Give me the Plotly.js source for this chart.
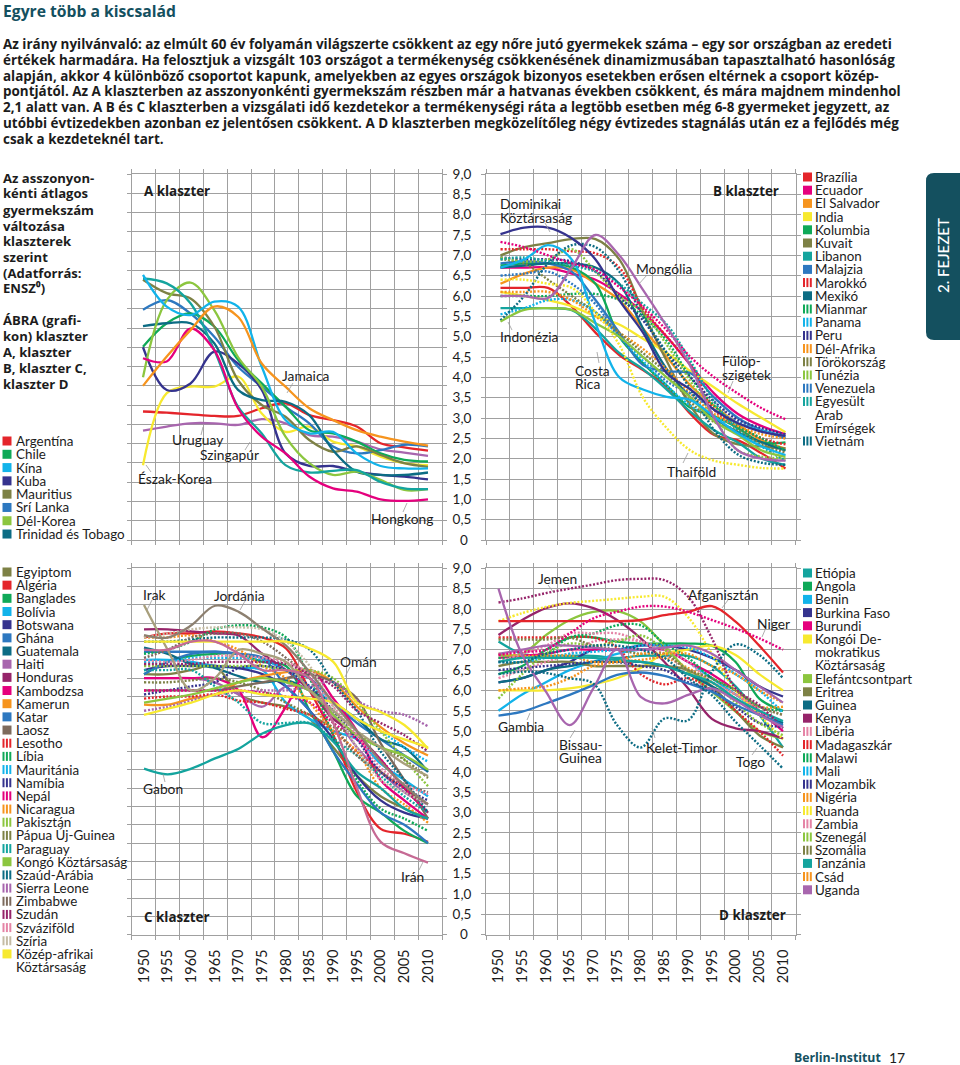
<!DOCTYPE html>
<html lang="hu"><head><meta charset="utf-8">
<script src="https://cdn.plot.ly/plotly-3.0.1.min.js"></script>
<style>html,body{margin:0;padding:0;background:#fff}#chart{width:960px;height:1065px}</style>
</head><body><div id="chart"></div>
<script>
const years=[1950,1955,1960,1965,1970,1975,1980,1985,1990,1995,2000,2005,2010];
const yTicks=[0,0.5,1,1.5,2,2.5,3,3.5,4,4.5,5,5.5,6,6.5,7,7.5,8,8.5,9];
const yTickText=["0\u00a0","0,5","1,0","1,5","2,0","2,5","3,0","3,5","4,0","4,5","5,0","5,5","6,0","6,5","7,0","7,5","8,0","8,5","9,0"];
const xTickYears=[1950,1955,1960,1965,1970,1975,1980,1985,1990,1995,2000,2005,2010];

// A klaszter
const namesA=["Argentína","Uruguay","Észak-Korea","Srí Lanka","Kuba","Chile","Mauritius","Trinidad és Tobago","Dél-Korea","Szingapúr","Hongkong","Kína","Jamaica"];
const valuesA=[
[3.16,3.13,3.09,3.05,3.05,3.24,3.36,3.07,2.95,2.79,2.38,2.28,2.20],
[2.69,2.79,2.87,2.87,2.83,2.97,2.87,2.58,2.54,2.42,2.23,2.15,2.07],
[1.84,3.61,3.77,3.77,4.02,3.11,2.66,2.79,2.42,2.30,2.05,1.89,1.84],
[5.66,5.90,5.57,5.00,4.26,3.77,3.28,2.87,2.30,2.13,2.21,2.34,2.30],
[4.74,3.69,3.85,4.63,4.34,3.69,2.13,1.82,1.82,1.68,1.60,1.56,1.49],
[4.75,5.33,5.57,5.25,4.43,3.85,3.28,2.70,2.62,2.42,2.13,1.97,1.93],
[6.40,6.07,5.94,5.25,3.93,3.32,3.03,2.46,2.17,2.30,2.09,1.89,1.80],
[5.26,5.33,5.33,4.84,3.69,3.44,3.40,3.07,2.21,1.68,1.60,1.60,1.66],
[4.00,5.90,6.33,5.65,4.50,3.77,2.54,1.89,1.60,1.68,1.48,1.23,1.25],
[6.43,6.31,5.82,4.67,3.28,2.62,1.84,1.66,1.70,1.72,1.43,1.27,1.25],
[4.47,4.39,5.20,4.67,3.24,2.54,2.13,1.56,1.27,1.19,1.00,0.96,1.00],
[6.52,5.74,5.53,5.86,5.74,4.26,2.95,2.62,2.66,2.13,1.82,1.76,1.76],
[3.79,4.51,5.16,5.74,5.49,4.34,3.77,3.24,2.95,2.70,2.54,2.42,2.32]];

// B klaszter
const namesB=["Brazília","Ecuador","El Salvador","India","Kolumbia","Kuvait","Libanon","Malajzia","Marokkó","Mexikó","Mianmar","Panama","Peru","Dél-Afrika","Törökország","Tunézia","Venezuela","Egyesült Arab Emírségek","Vietnám","Indonézia","Costa Rica","Thaiföld","Dominikai Köztársaság","Fülöp-szigetek","Mongólia"];
const valuesB=[
[6.20,6.20,6.20,5.74,5.10,4.55,4.18,3.77,3.10,2.58,2.45,2.13,1.76],
[6.70,6.70,6.70,6.55,6.40,6.05,5.60,5.00,4.30,3.60,3.10,2.80,2.60],
[6.30,6.55,6.70,6.65,6.30,5.90,5.20,4.50,3.80,3.30,2.85,2.45,2.25],
[6.10,6.00,5.90,5.75,5.50,5.30,4.95,4.60,4.15,3.75,3.35,3.00,2.65],
[6.75,6.80,6.80,6.70,6.30,5.00,4.35,3.80,3.25,3.05,2.75,2.40,2.40],
[7.00,7.20,7.30,7.40,7.40,6.90,5.60,4.40,3.30,2.60,2.35,2.30,2.25],
[5.70,5.70,5.70,5.65,5.20,4.60,4.20,3.70,3.15,2.70,2.40,2.00,1.85],
[6.80,6.85,6.80,6.60,5.90,5.10,4.30,4.15,4.10,3.50,3.00,2.70,2.50],
[7.15,7.15,7.15,7.10,7.05,6.70,5.70,5.00,4.30,3.20,2.80,2.50,2.35],
[6.70,6.75,6.80,6.80,6.70,6.30,5.20,4.20,3.50,3.00,2.65,2.40,2.20],
[6.00,6.00,6.00,6.05,6.05,5.90,5.50,4.90,4.00,3.30,2.80,2.50,2.20],
[5.55,5.70,5.90,5.90,5.60,5.00,4.40,3.80,3.30,3.00,2.85,2.70,2.55],
[6.95,6.90,6.90,6.85,6.60,6.00,5.40,4.60,4.00,3.40,2.95,2.75,2.60],
[6.10,6.10,6.10,5.90,5.50,5.10,4.70,4.20,3.60,3.10,2.80,2.60,2.50],
[6.90,6.80,6.40,6.00,5.60,5.10,4.60,4.10,3.40,2.90,2.70,2.35,2.15],
[6.95,6.85,6.90,7.15,6.60,6.00,5.60,4.80,3.90,3.00,2.20,2.05,2.00],
[6.50,6.55,6.60,6.30,5.80,5.00,4.50,3.90,3.60,3.20,2.90,2.70,2.55],
[6.90,6.95,6.85,6.75,6.60,6.30,5.80,5.30,4.40,3.40,2.70,2.30,1.95],
[5.40,6.00,6.80,7.25,7.20,6.60,5.50,4.60,3.70,2.70,2.10,1.90,1.85],
[5.37,5.66,5.70,5.66,5.33,5.00,4.50,4.00,3.50,2.92,2.58,2.20,2.05],
[6.70,6.90,7.25,6.90,5.33,4.00,3.70,3.52,3.44,3.03,2.62,2.30,2.09],
[6.40,6.40,6.30,6.20,5.60,4.80,3.50,2.75,2.20,1.95,1.85,1.77,1.76],
[7.52,7.68,7.68,7.42,6.90,5.90,5.10,4.10,3.70,3.20,2.87,2.66,2.56],
[7.33,7.20,7.00,6.80,6.64,6.22,5.73,5.16,4.50,4.00,3.60,3.24,2.97],
[6.00,6.00,5.95,6.70,7.50,7.00,6.15,5.25,4.27,3.00,2.20,2.00,1.95]];

// C klaszter
const namesC=["Egyiptom","Algéria","Banglades","Bolívia","Botswana","Ghána","Guatemala","Haiti","Honduras","Kambodzsa","Kamerun","Katar","Laosz","Lesotho","Líbia","Mauritánia","Namíbia","Nepál","Nicaragua","Pakisztán","Pápua Új-Guinea","Paraguay","Kongó Köztársaság","Szaúd-Arábia","Sierra Leone","Zimbabwe","Szudán","Szváziföld","Szíria","Közép-afrikai Köztársaság","Irak","Jordánia","Omán","Gabon","Irán"];
const valuesC=[
[6.40,6.40,6.50,6.60,5.90,5.70,5.60,5.30,4.60,3.90,3.40,3.10,2.85],
[7.30,7.40,7.40,7.45,7.40,7.30,7.03,6.00,4.90,3.50,2.60,2.48,2.28],
[6.40,6.70,6.85,6.90,6.90,6.70,6.60,5.50,4.50,3.40,3.00,2.55,2.25],
[6.75,6.75,6.70,6.60,6.55,6.50,5.70,5.30,5.00,4.80,4.20,3.80,3.40],
[6.50,6.60,6.60,6.60,6.55,6.40,6.10,5.50,4.80,3.90,3.30,3.00,2.85],
[6.40,6.70,6.90,6.95,6.90,6.80,6.50,6.30,5.70,5.20,4.80,4.40,4.00],
[7.05,6.90,6.65,6.55,6.35,6.20,6.25,6.00,5.70,5.30,4.80,4.60,4.00],
[6.30,6.30,6.30,6.20,5.90,5.60,6.10,6.00,5.40,4.60,4.00,3.50,3.20],
[7.50,7.50,7.45,7.40,7.35,6.90,6.50,6.00,5.30,4.90,4.30,3.60,3.00],
[6.30,6.30,6.30,6.30,6.00,4.85,5.60,6.50,5.80,5.00,3.80,3.30,2.85],
[5.65,5.65,5.80,5.90,6.20,6.35,6.45,6.50,6.20,5.60,5.10,4.70,4.40],
[6.95,6.95,6.95,6.95,6.90,6.80,6.10,5.50,4.50,3.70,3.00,2.70,2.25],
[6.00,6.00,6.00,6.00,6.10,6.20,6.30,6.40,6.20,5.80,4.70,3.80,2.85],
[5.80,5.85,5.85,5.90,5.75,5.70,5.55,5.40,5.00,4.50,4.00,3.60,3.20],
[6.90,7.00,7.20,7.50,7.60,7.55,7.30,6.30,4.90,3.80,3.10,2.85,2.55],
[6.70,6.70,6.80,6.80,6.80,6.75,6.50,6.10,5.70,5.30,5.00,4.60,4.25],
[5.90,6.00,6.10,6.20,6.55,6.60,6.50,6.10,5.50,4.80,4.00,3.60,3.30],
[6.00,6.00,6.00,6.00,6.00,5.95,5.85,5.70,5.20,4.80,4.30,3.60,3.00],
[7.30,7.30,7.35,7.20,7.00,6.60,6.30,5.70,5.00,4.50,3.60,3.20,2.75],
[6.60,6.60,6.60,6.60,6.60,6.60,6.50,6.50,6.30,5.70,5.00,4.30,3.65],
[6.20,6.20,6.25,6.30,6.20,6.00,5.70,5.40,5.10,4.90,4.60,4.30,3.85],
[6.50,6.50,6.50,6.10,5.70,5.20,5.20,5.20,4.80,4.40,3.90,3.40,3.00],
[5.70,5.80,5.90,6.05,6.20,6.30,6.20,6.00,5.40,4.90,4.60,4.40,4.05],
[7.20,7.20,7.25,7.30,7.30,7.30,7.25,7.00,6.20,5.50,4.50,3.80,3.00],
[5.50,5.60,5.75,5.90,5.95,6.00,6.00,6.10,6.20,5.75,5.50,5.40,5.12],
[6.80,7.00,7.30,7.40,7.40,7.20,6.80,6.30,5.20,4.40,4.00,3.70,3.50],
[6.65,6.65,6.65,6.70,6.70,6.70,6.65,6.40,6.10,5.50,5.20,4.90,4.50],
[6.75,6.70,6.75,6.85,6.85,6.80,6.70,6.40,5.60,4.90,4.10,3.70,3.45],
[7.30,7.40,7.50,7.55,7.55,7.50,7.20,6.60,5.60,4.60,3.80,3.50,3.20],
[5.40,5.55,5.70,5.90,6.00,5.90,5.85,5.80,5.70,5.30,5.00,4.80,4.60],
[8.10,7.00,6.00,6.30,7.00,6.90,6.70,6.00,5.50,5.00,4.60,4.20,3.90],
[7.36,7.30,7.60,8.08,7.93,7.52,7.10,6.45,5.70,5.00,4.25,3.67,3.20],
[7.20,7.20,7.20,7.20,7.20,7.20,7.20,7.03,6.70,5.70,5.47,5.15,4.57],
[4.08,3.94,4.08,4.33,4.57,4.94,5.15,5.19,4.74,4.00,3.60,3.10,2.85],
[7.00,7.00,7.20,7.20,6.90,6.50,6.50,6.30,5.20,3.60,2.28,2.00,1.77]];

// D klaszter
const namesD=["Etiópia","Angola","Benin","Burkina Faso","Burundi","Kongói Demokratikus Köztársaság","Elefántcsontpart","Eritrea","Guinea","Kenya","Libéria","Madagaszkár","Malawi","Mali","Mozambik","Nigéria","Ruanda","Zambia","Szenegál","Szomália","Tanzánia","Csád","Uganda","Jemen","Afganisztán","Niger","Gambia","Bissau-Guinea","Kelet-Timor","Togo"];
const valuesD=[
[7.20,6.90,6.85,6.85,6.85,6.80,6.85,6.85,6.85,6.60,6.10,5.40,4.60],
[6.40,6.60,7.00,7.30,7.30,7.20,7.15,7.15,7.15,7.10,6.70,5.80,5.50],
[5.50,5.90,6.20,6.50,6.70,6.90,7.00,7.00,6.70,6.30,5.90,5.50,5.20],
[6.20,6.30,6.50,6.70,7.00,7.00,7.10,7.10,7.00,6.80,6.50,6.10,5.85],
[6.80,6.85,6.90,7.00,7.00,7.00,7.00,7.00,6.70,6.40,6.00,5.50,5.00],
[6.00,6.00,6.00,6.05,6.15,6.30,6.55,6.90,7.00,7.10,6.87,6.40,6.00],
[6.87,6.90,7.36,7.73,7.93,7.95,7.69,7.10,6.46,5.97,5.48,5.00,4.82],
[6.60,6.70,6.70,6.70,6.60,6.60,6.60,6.60,6.50,6.10,5.50,4.90,4.60],
[6.20,6.30,6.50,6.60,6.70,6.70,6.70,6.60,6.40,6.10,5.80,5.40,5.20],
[7.36,7.73,8.02,8.14,8.02,7.73,7.28,6.70,6.05,5.30,5.07,5.00,4.82],
[6.30,6.50,6.70,6.90,7.20,7.25,7.20,7.00,6.70,6.20,5.90,5.50,5.10],
[7.30,7.30,7.30,7.30,7.30,7.05,6.40,6.15,6.30,6.00,5.50,5.00,4.40],
[6.80,6.80,6.90,7.30,7.40,7.60,7.60,7.15,6.80,6.30,6.00,5.60,5.50],
[6.70,6.70,6.80,6.90,6.95,7.00,7.10,7.10,7.05,6.80,6.40,6.00,5.45],
[6.50,6.55,6.60,6.65,6.70,6.70,6.60,6.50,6.20,6.00,5.60,5.20,5.10],
[6.90,6.85,6.85,6.85,6.70,6.70,6.75,6.80,6.55,6.20,5.90,5.60,5.60],
[7.70,7.90,8.05,8.15,8.20,8.25,8.30,8.30,7.80,6.90,6.00,5.40,4.80],
[6.70,6.90,7.10,7.40,7.40,7.40,7.20,6.90,6.50,6.20,5.90,5.60,5.40],
[5.80,6.40,6.90,7.15,7.10,7.20,7.35,7.00,6.50,6.20,5.70,5.20,4.90],
[7.25,7.25,7.25,7.30,7.10,7.00,6.90,6.90,6.50,6.30,6.00,5.60,5.40],
[6.70,6.80,6.80,6.80,6.80,6.75,6.70,6.60,6.40,6.20,5.80,5.50,5.25],
[6.00,6.05,6.10,6.30,6.60,6.70,6.90,6.90,6.90,6.60,6.40,6.00,5.70],
[6.90,7.00,7.10,7.10,7.05,7.00,7.00,7.05,7.10,6.90,6.50,6.10,5.70],
[8.16,8.26,8.39,8.50,8.60,8.71,8.74,8.71,8.30,7.28,6.05,5.64,5.07],
[7.70,7.70,7.70,7.70,7.70,7.70,7.73,7.85,7.93,8.07,7.69,7.10,6.44],
[6.87,6.95,7.00,7.40,7.77,7.93,8.06,8.06,7.93,7.73,7.52,7.28,7.00],
[5.38,5.48,5.68,5.89,6.13,6.38,6.44,6.36,6.17,5.97,5.64,5.40,5.15],
[8.50,6.87,5.97,5.15,6.05,7.00,5.84,5.68,5.89,6.05,5.75,5.40,5.10],
[6.40,6.46,6.43,6.30,6.17,5.15,4.60,5.31,5.27,6.46,7.13,6.87,6.30],
[6.70,6.70,6.90,7.00,7.10,7.10,7.00,6.80,6.30,5.88,5.23,4.66,4.08]];

const legendA=["Argentína","Chile","Kína","Kuba","Mauritius","Srí Lanka","Dél-Korea","Trinidad és Tobago"];
const legendB=["Brazília","Ecuador","El Salvador","India","Kolumbia","Kuvait","Libanon","Malajzia","Marokkó","Mexikó","Mianmar","Panama","Peru","Dél-Afrika","Törökország","Tunézia","Venezuela",["Egyesült","Arab","Emírségek"],"Vietnám"];
const legendC=["Egyiptom","Algéria","Banglades","Bolívia","Botswana","Ghána","Guatemala","Haiti","Honduras","Kambodzsa","Kamerun","Katar","Laosz","Lesotho","Líbia","Mauritánia","Namíbia","Nepál","Nicaragua","Pakisztán","Pápua Új-Guinea","Paraguay","Kongó Köztársaság","Szaúd-Arábia","Sierra Leone","Zimbabwe","Szudán","Szváziföld","Szíria",["Közép-afrikai","Köztársaság"]];
const legendD=["Etiópia","Angola","Benin","Burkina Faso","Burundi",["Kongói De-","mokratikus","Köztársaság"],"Elefántcsontpart","Eritrea","Guinea","Kenya","Libéria","Madagaszkár","Malawi","Mali","Mozambik","Nigéria","Ruanda","Zambia","Szenegál","Szomália","Tanzánia","Csád","Uganda"];
const legendKeyD={"Kongói De-":"Kongói Demokratikus Köztársaság"};

// Styles (colour, dotted) are kept apart from the values
const R='#e4252b',G='#0fa958',C='#12b3ea',N='#35338e',O='#7d8145',B='#2d78c0',L='#8cc63f',T='#0c6c84',M='#e5007d',Or='#f6941e',Y='#f7e92f',Te='#14a49e',P='#a866ae',Ma='#96246a',Br='#7d6a5c',Pk='#e584a6',Ta='#c5bca5';
const style={};
const solid=(c,...ns)=>ns.forEach(n=>style[n]=[c,false]);
const dots=(c,...ns)=>ns.forEach(n=>style[n]=[c,true]);
solid(R,"Argentína","Brazília","Algéria","Afganisztán");
solid(G,"Chile","Kolumbia","Banglades","Angola");
solid(C,"Kína","Bolívia","Benin","Costa Rica");
solid(N,"Kuba","Botswana","Burkina Faso","Dominikai Köztársaság");
solid(O,"Mauritius","Kuvait","Egyiptom","Eritrea");
solid(B,"Srí Lanka","Malajzia","Ghána","Katar","Gambia");
solid(L,"Dél-Korea","Kongó Köztársaság","Elefántcsontpart","Indonézia");
solid(T,"Trinidad és Tobago","Mexikó","Guatemala","Guinea");
solid(M,"Ecuador","Kambodzsa","Burundi","Hongkong");
solid(Or,"El Salvador","Kamerun","Jamaica");
solid(Y,"India","Közép-afrikai Köztársaság","Kongói Demokratikus Köztársaság","Észak-Korea","Omán");
solid(Te,"Libanon","Etiópia","Tanzánia","Szingapúr","Gabon");
solid(P,"Haiti","Uganda","Uruguay","Mongólia","Bissau-Guinea");
solid(Ma,"Honduras","Kenya");
solid(Br,"Laosz");
solid('#a89f7c',"Irak"); solid('#8d8070',"Jordánia"); solid('#c66a94',"Irán");
dots(R,"Marokkó","Lesotho","Madagaszkár");
dots(G,"Mianmar","Líbia","Malawi");
dots(C,"Panama","Mauritánia","Mali");
dots(N,"Peru","Namíbia","Mozambik");
dots(Or,"Dél-Afrika","Nicaragua","Nigéria","Csád");
dots(O,"Törökország","Pápua Új-Guinea","Szomália");
dots(L,"Tunézia","Pakisztán","Szenegál");
dots(B,"Venezuela");
dots(Te,"Egyesült Arab Emírségek","Paraguay");
dots(T,"Vietnám","Szaúd-Arábia","Kelet-Timor","Togo");
dots(M,"Nepál","Fülöp-szigetek","Niger");
dots(P,"Sierra Leone");
dots(Br,"Zimbabwe");
dots(Ma,"Szudán","Jemen");
dots(Pk,"Szváziföld","Libéria","Zambia");
dots(Ta,"Szíria");
dots(Y,"Thaiföld","Ruanda");

const W=960,H=1065;
const fx=px=>px/W, fy=py=>1-py/H;
const FONT='Lato, "Noto Sans", sans-serif';
const BOLD='"Open Sans", "Noto Sans", sans-serif';
const INK='#1c1c1c', TEAL='#14505f', GRID='#a0a0a0';

const panels=[
 {id:'',names:namesA,vals:valuesA,gL:131.7,gR:442,top:174,bot:540,p0:143,p1:428,yN:19,lab:false,xlab:false},
 {id:'2',names:namesB,vals:valuesB,gL:486,gR:795.7,top:174,bot:540,p0:500.5,p1:785.5,yN:18,lab:true,xlab:false},
 {id:'3',names:namesC,vals:valuesC,gL:131.7,gR:442,top:568.3,bot:934.7,p0:144,p1:428,yN:20,lab:false,xlab:true},
 {id:'4',names:namesD,vals:valuesD,gL:486,gR:795.7,top:568.3,bot:934.7,p0:498.5,p1:783,yN:18,lab:true,xlab:true}
];

const data=[]; const layout={width:W,height:H,margin:{l:0,r:0,t:0,b:0},paper_bgcolor:'#fff',plot_bgcolor:'#fff',showlegend:false,hovermode:false,font:{family:FONT,color:INK},annotations:[],shapes:[]};

panels.forEach(p=>{
  p.names.forEach((n,i)=>{
    const st=style[n];
    data.push({type:'scatter',mode:'lines',name:n,x:years,y:p.vals[i],xaxis:'x'+p.id,yaxis:'y'+p.id,
      line:{color:st[0],width:st[1]?2.4:2.3,shape:'spline',smoothing:1,dash:st[1]?'2px,1.7px':'solid'}});
  });
  const s=(p.p1-p.p0)/60;
  const r0=1950-(p.p0-p.gL)/s, r1=1950+(p.gR-p.p0)/s;
  layout['xaxis'+p.id]={domain:[fx(p.gL),fx(p.gR)],range:[r0,r1],anchor:'y'+p.id,showgrid:false,zeroline:false,
    showline:true,linecolor:GRID,linewidth:1,mirror:'ticks',
    tickmode:'array',tickvals:xTickYears,ticktext:p.xlab?xTickYears.map(String):xTickYears.map(()=>''),
    ticks:'',tickangle:-90,tickfont:{size:14.5,color:INK,family:FONT},ticklabelstandoff:8,showticklabels:p.xlab,
    minor:{tickmode:'linear',tick0:r0,dtick:(p.gR-p.gL)/13/s,showgrid:true,gridcolor:GRID,gridwidth:1,ticks:'outside',ticklen:4,tickcolor:GRID,tickwidth:1}};
  const tv=[];for(let k=0;k<=p.yN;k++)tv.push(9*k/p.yN);
  layout['yaxis'+p.id]={domain:[fy(p.bot),fy(p.top)],range:[0,9],anchor:'x'+p.id,showgrid:true,gridcolor:GRID,gridwidth:1,zeroline:false,
    showline:true,linecolor:GRID,linewidth:1,mirror:'ticks',tickmode:'array',
    tickvals:p.lab?yTicks:tv,ticktext:p.lab?yTickText:tv.map(()=>''),showticklabels:p.lab,
    ticks:'outside',ticklen:4,tickcolor:GRID,tickwidth:1,ticklabelstandoff:7,tickfont:{size:13.5,color:INK,family:FONT}};
});

const note=(txt,x,y,o={})=>layout.annotations.push({text:txt,xref:'paper',yref:'paper',x:fx(x-(o.dx===undefined?1.5:o.dx)),y:fy(y),xanchor:'left',yanchor:'middle',showarrow:false,align:'left',borderpad:0,font:{family:o.family||FONT,size:o.size||13.2,color:o.color||INK,weight:o.weight||400}});

// headline + paragraph
note('Egyre több a kiscsalád',3,11,{size:15.7,weight:700,color:TEAL,family:BOLD});
const para=["Az irány nyilvánvaló: az elmúlt 60 év folyamán világszerte csökkent az egy nőre jutó gyermekek száma – egy sor országban az eredeti",
"értékek harmadára. Ha felosztjuk a vizsgált 103 országot a termékenység csökkenésének dinamizmusában tapasztalható hasonlóság",
"alapján, akkor 4 különböző csoportot kapunk, amelyekben az egyes országok bizonyos esetekben erősen eltérnek a csoport közép-",
"pontjától. Az A klaszterben az asszonyonkénti gyermekszám részben már a hatvanas években csökkent, és mára majdnem mindenhol",
"2,1 alatt van. A B és C klaszterben a vizsgálati idő kezdetekor a termékenységi ráta a legtöbb esetben még 6-8 gyermeket jegyzett, az",
"utóbbi évtizedekben azonban ez jelentősen csökkent. A D klaszterben megközelítőleg négy évtizedes stagnálás után ez a fejlődés még",
"csak a kezdeteknél tart."];
para.forEach((t,i)=>note(t,3,44+15.83*i,{size:13.45,weight:700,family:BOLD}));

// side caption
const side=[["Az asszonyon-",178],["kénti átlagos",193.5],["gyermekszám",209.5],["változása",225.5],["klaszterek",241],["szerint",257],["(Adatforrás:",272.5],["ENSZ⁰)",288],["ÁBRA (grafi-",320],["kon) klaszter",336],["A, klaszter",352],["B, klaszter C,",368],["klaszter D",384]];
side.forEach(([t,y])=>note(t,3,y,{size:13.1,weight:700,family:BOLD}));

// legends
function legend(list,xSw,xTxt,y0,step,keymap){
  let row=0;
  list.forEach(e=>{
    const lines=Array.isArray(e)?e:[e];
    const key=(keymap&&keymap[lines[0]])||(Array.isArray(e)?lines.join(' '):e);
    const st=style[key];
    const y=y0+row*step;
    if(st[1]){[0,3.4,6.8].forEach(d=>layout.shapes.push({type:'rect',xref:'paper',yref:'paper',layer:'above',x0:fx(xSw+d),x1:fx(xSw+d+2),y0:fy(y+4.5),y1:fy(y-4.5),fillcolor:st[0],line:{width:0}}));}
    else layout.shapes.push({type:'rect',xref:'paper',yref:'paper',layer:'above',x0:fx(xSw),x1:fx(xSw+9),y0:fy(y+4.5),y1:fy(y-4.5),fillcolor:st[0],line:{width:0}});
    lines.forEach(t=>{note(t,xTxt,y0+row*step,{size:13.4});row++;});
  });
}
legend(legendA,2.5,16,441,13.29);
legend(legendC,2.5,16,572,13.17);
legend(legendB,803,815.5,177,13.2);
legend(legendD,803,815.5,573,13.2,legendKeyD);

// direct labels with leaders
const labels=[
 ["Jamaica",282,375,[293,383,287,393]],["Uruguay",172,440,[203,427,201,435]],["Szingapúr",200,454,[250,442,245,450]],
 ["Észak-Korea",138,478,[146,465,151,472]],["Hongkong",371,518,[407,503,403,512]],
 ["Dominikai",500,203,null],["Köztársaság",500,217,[545,223,550,232]],["Mongólia",636,269,[647,275,638,285]],
 ["Indonézia",500,336,[512,330,508,322]],["Costa",575,370,[599,363,597,352]],["Rica",575,383,null],
 ["Fülöp-",722,361,null],["szigetek",722,374,[733,381,728,393]],["Thaiföld",667,471,[683,463,688,453]],
 ["Irak",143,594,[152,600,147,610]],["Jordánia",214,595,[245,601,240,610]],["Omán",340,661,[350,667,345,677]],
 ["Gabon",143,788,[165,782,163,774]],["Irán",401,876,[419,870,423,862]],
 ["Jemen",538,578,[548,585,554,593]],["Afganisztán",688,594,[728,600,722,608]],["Niger",757,623,[765,630,762,637]],
 ["Gambia",498,726,[527,720,530,713]],["Bissau-",559,744,[570,738,575,730]],["Guinea",559,757,null],
 ["Kelet-Timor",646,747,[655,738,652,728]],["Togo",736,761,[752,755,757,748]]];
labels.forEach(([t,x,y,l])=>{
  note(t,x,y,{size:13.8});
  if(l)layout.shapes.push({type:'line',xref:'paper',yref:'paper',layer:'above',x0:fx(l[0]),y0:fy(l[1]),x1:fx(l[2]),y1:fy(l[3]),line:{color:'#9a9a9a',width:0.8}});
});
note('A klaszter',144,191,{size:13.4,weight:700,family:BOLD});
note('B klaszter',713,191,{size:13.4,weight:700,family:BOLD});
note('C klaszter',144,917,{size:13.4,weight:700,family:BOLD});
note('D klaszter',719,915,{size:13.4,weight:700,family:BOLD});

// chapter tab
layout.shapes.push({type:'path',xref:'paper',yref:'paper',layer:'above',path:`M ${fx(960)} ${fy(173)} L ${fx(934)} ${fy(173)} Q ${fx(926)} ${fy(173)} ${fx(926)} ${fy(181)} L ${fx(926)} ${fy(332)} Q ${fx(926)} ${fy(340)} ${fx(934)} ${fy(340)} L ${fx(960)} ${fy(340)} Z`,fillcolor:'#14505f',line:{width:0}});
layout.annotations.push({text:'2. FEJEZET',xref:'paper',yref:'paper',x:fx(943),y:fy(256),xanchor:'center',yanchor:'middle',showarrow:false,textangle:-90,font:{family:FONT,size:15,color:'#fff',weight:500}});

// footer
note('Berlin-Institut',794,1057,{size:12.3,weight:700,color:TEAL,family:BOLD});
note('17',889,1057,{size:14,color:INK});

Plotly.newPlot('chart',data,layout,{staticPlot:true,displayModeBar:false});
</script></body></html>
